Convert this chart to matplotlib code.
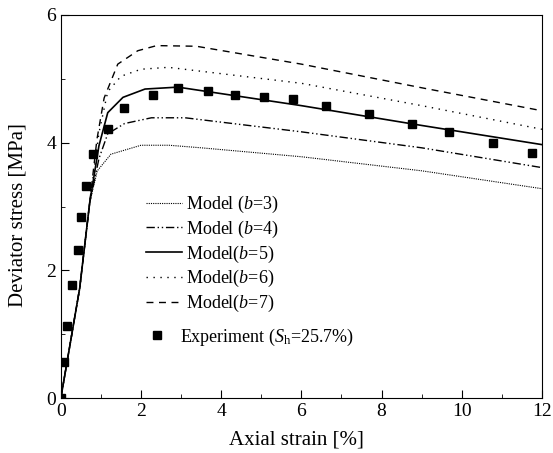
import matplotlib
matplotlib.use("Agg")
import matplotlib.pyplot as plt
from matplotlib.ticker import MultipleLocator

plt.rcParams['font.family'] = 'Liberation Serif'
plt.rcParams['mathtext.fontset'] = 'custom'
plt.rcParams['mathtext.rm'] = 'Liberation Serif'
plt.rcParams['mathtext.it'] = 'Liberation Serif:italic'

# experiment data
exp_strain = [0.0, 0.08, 0.16, 0.28, 0.43, 0.51, 0.64, 0.80, 1.17, 1.58, 2.31, 2.92,
              3.67, 4.35, 5.06, 5.78, 6.61, 7.68, 8.77, 9.69, 10.77, 11.74]
exp_stress = [0.0, 0.57, 1.13, 1.77, 2.32, 2.83, 3.32, 3.83, 4.21, 4.55, 4.74, 4.85,
              4.81, 4.74, 4.72, 4.68, 4.58, 4.45, 4.30, 4.17, 4.00, 3.84]

# model curves
b3_x = [0.0, 0.47, 0.72, 0.91, 1.25, 2.0, 2.7, 3.5, 6.0, 9.0, 12.0]
b3_y = [0.0, 1.72, 3.06, 3.56, 3.82, 3.96, 3.96, 3.92, 3.78, 3.56, 3.28]
b4_x = [0.0, 0.47, 0.72, 0.95, 1.17, 1.59, 2.26, 3.1, 6.0, 9.0, 12.0]
b4_y = [0.0, 1.72, 3.06, 3.75, 4.14, 4.30, 4.39, 4.39, 4.17, 3.92, 3.61]
b5_x = [0.0, 0.47, 0.72, 0.95, 1.17, 1.55, 2.10, 2.92, 6.0, 9.0, 12.0]
b5_y = [0.0, 1.72, 3.06, 3.95, 4.47, 4.71, 4.84, 4.87, 4.58, 4.27, 3.97]
b6_x = [0.0, 0.47, 0.72, 0.95, 1.17, 1.50, 2.0, 2.68, 6.0, 9.0, 12.0]
b6_y = [0.0, 1.72, 3.06, 4.15, 4.80, 5.04, 5.15, 5.18, 4.93, 4.58, 4.21]
b7_x = [0.0, 0.47, 0.72, 0.90, 1.08, 1.42, 1.92, 2.39, 3.38, 6.0, 9.0, 12.0]
b7_y = [0.0, 1.72, 3.06, 4.05, 4.70, 5.23, 5.44, 5.52, 5.51, 5.23, 4.86, 4.50]

fig = plt.figure(figsize=(5.53, 4.53), dpi=100)
ax = fig.add_axes([0.110, 0.121, 0.870, 0.846])

l3, = ax.plot(b3_x, b3_y, color='black', lw=0.8, linestyle=(0, (1, 1)))
l4, = ax.plot(b4_x, b4_y, color='black', lw=1.0, linestyle=(0, (6, 2, 1, 2, 1, 2)))
l5, = ax.plot(b5_x, b5_y, color='black', lw=1.2, linestyle='-')
l6, = ax.plot(b6_x, b6_y, color='black', lw=1.0, linestyle=(0, (1, 4)))
l7, = ax.plot(b7_x, b7_y, color='black', lw=1.0, linestyle=(0, (5, 4)))
sq, = ax.plot(exp_strain, exp_stress, 's', color='black', ms=6.3, linestyle='none')

ax.set_xlim(0, 12)
ax.set_ylim(0, 6)
ax.xaxis.set_major_locator(MultipleLocator(2))
ax.xaxis.set_minor_locator(MultipleLocator(1))
ax.yaxis.set_major_locator(MultipleLocator(2))
ax.yaxis.set_minor_locator(MultipleLocator(1))
ax.tick_params(which='both', direction='in', top=False, right=False, labelsize=14)
ax.tick_params(which='major', length=6)
ax.tick_params(which='minor', length=3)
ax.set_xlabel('Axial strain [%]', fontsize=15)
ax.set_ylabel('Deviator stress [MPa]', fontsize=15)
ax.xaxis.set_label_coords(0.49, -0.085)
ax.yaxis.set_label_coords(-0.069, 0.478)

leg1 = ax.legend([l3, l4, l5, l6, l7],
                 ['Model ($b$=3)', 'Model ($b$=4)', 'Model($b$=5)', 'Model($b$=6)', 'Model($b$=7)'],
                 loc='upper left', bbox_to_anchor=(0.177, 0.533), frameon=False, fontsize=13,
                 borderpad=0, borderaxespad=0,
                 handlelength=2.0, handletextpad=0.22, labelspacing=0.2)
ax.add_artist(leg1)
ax.legend([sq], ['Experiment ($S_\\mathrm{h}$=25.7%)'], loc='upper left',
          bbox_to_anchor=(0.181, 0.187), frameon=False, fontsize=13,
          borderpad=0, borderaxespad=0,
          handlelength=1.0, handletextpad=0.78)

fig.savefig('out.png', dpi=100)
